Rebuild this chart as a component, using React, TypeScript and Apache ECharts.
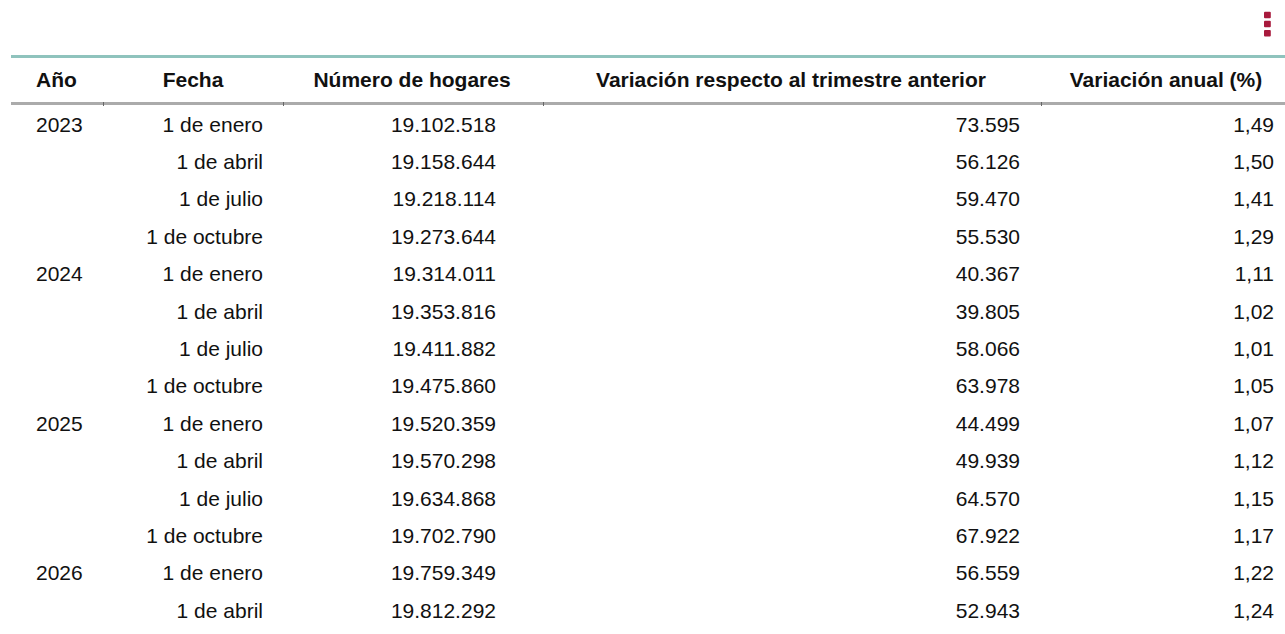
import React, { useEffect, useRef } from "react";
import * as echarts from "echarts";

const headers = ["Año", "Fecha", "Número de hogares", "Variación respecto al trimestre anterior", "Variación anual (%)"];
const years = ["2023", "", "", "", "2024", "", "", "", "2025", "", "", "", "2026", ""];
const fechas = ["1 de enero", "1 de abril", "1 de julio", "1 de octubre", "1 de enero", "1 de abril", "1 de julio", "1 de octubre", "1 de enero", "1 de abril", "1 de julio", "1 de octubre", "1 de enero", "1 de abril"];
const hogares = ["19.102.518", "19.158.644", "19.218.114", "19.273.644", "19.314.011", "19.353.816", "19.411.882", "19.475.860", "19.520.359", "19.570.298", "19.634.868", "19.702.790", "19.759.349", "19.812.292"];
const varTrim = ["73.595", "56.126", "59.470", "55.530", "40.367", "39.805", "58.066", "63.978", "44.499", "49.939", "64.570", "67.922", "56.559", "52.943"];
const varAnual = ["1,49", "1,50", "1,41", "1,29", "1,11", "1,02", "1,01", "1,05", "1,07", "1,12", "1,15", "1,17", "1,22", "1,24"];

const FONT = "Liberation Sans, Arial, sans-serif";
const SIZE = 21;

export default function App() {
  const ref = useRef<HTMLDivElement>(null);
  useEffect(() => {
    if (!ref.current) return;
    const chart = echarts.init(ref.current, null, { renderer: "svg" });
    const left = 11;
    const right = 1285;
    const colEdges = [left, 103, 283, 543, 1041, right];
    const headerY = 79;
    const firstRowY = 124;
    const rowH = 37.4;
    const els: any[] = [];
    const txt = (t: string, x: number, y: number, align: string, bold = false) => ({
      type: "text",
      x,
      y,
      silent: true,
      style: {
        text: t,
        fill: "#111",
        font: `${bold ? "bold " : ""}${SIZE}px ${FONT}`,
        textAlign: align,
        textVerticalAlign: "middle",
        align,
        verticalAlign: "middle",
      },
    });
    els.push({ type: "rect", shape: { x: left, y: 55, width: right - left, height: 3 }, style: { fill: "#8fc3bd" } });
    els.push({ type: "rect", shape: { x: left, y: 102, width: right - left, height: 3 }, style: { fill: "#ababab" } });
    for (let i = 1; i < colEdges.length - 1; i++) {
      els.push({ type: "rect", shape: { x: colEdges[i], y: 102, width: 1, height: 4 }, style: { fill: "#666" } });
    }
    const headerX = [36, 193, 412, 791, 1166];
    const headerAlign = ["left", "center", "center", "center", "center"];
    headers.forEach((h, i) => els.push(txt(h, headerX[i], headerY, headerAlign[i], true)));
    fechas.forEach((_, r) => {
      const y = firstRowY + r * rowH;
      if (years[r]) els.push(txt(years[r], 36, y, "left"));
      els.push(txt(fechas[r], 263, y, "right"));
      els.push(txt(hogares[r], 496, y, "right"));
      els.push(txt(varTrim[r], 1020, y, "right"));
      els.push(txt(varAnual[r], 1274, y, "right"));
    });
    [11.7, 20.7, 30].forEach((y) => {
      els.push({ type: "rect", shape: { x: 1264, y, width: 6.8, height: 6.6, r: 1 }, style: { fill: "#a8193c" } });
    });
    chart.setOption({ animation: false, graphic: { elements: els } });
    return () => chart.dispose();
  }, []);
  return (
    <div
      ref={ref}
      style={{ position: "fixed", left: 0, top: 0, width: 1285, height: 634, background: "#fff" }}
    />
  );
}
